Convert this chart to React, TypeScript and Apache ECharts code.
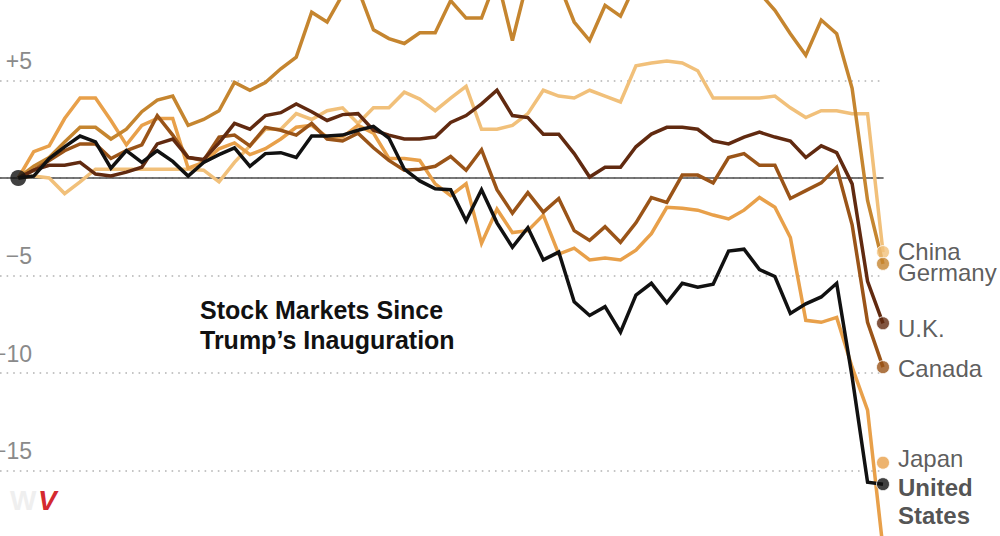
import React, { useEffect, useRef } from "react";
import * as echarts from "echarts";

// Trading days (x categories), Jan 17 = day before the inauguration
const dates = [
  "Jan 17", "Jan 20", "Jan 21", "Jan 22", "Jan 23", "Jan 24", "Jan 27", "Jan 28", "Jan 29", "Jan 30", "Jan 31",
  "Feb 3", "Feb 4", "Feb 5", "Feb 6", "Feb 7", "Feb 10", "Feb 11", "Feb 12", "Feb 13", "Feb 14",
  "Feb 17", "Feb 18", "Feb 19", "Feb 20", "Feb 21", "Feb 24", "Feb 25", "Feb 26", "Feb 27", "Feb 28",
  "Mar 3", "Mar 4", "Mar 5", "Mar 6", "Mar 7", "Mar 10", "Mar 11", "Mar 12", "Mar 13", "Mar 14",
  "Mar 17", "Mar 18", "Mar 19", "Mar 20", "Mar 21", "Mar 24", "Mar 25", "Mar 26", "Mar 27", "Mar 28",
  "Mar 31", "Apr 1", "Apr 2", "Apr 3", "Apr 4", "Apr 7",
];

// Percent change since inauguration
const chinaValues = [
  0, 0.1, 0.0, -0.8, -0.2, 0.45, 0.45, 0.45, 0.45, 0.45, 0.45,
  0.45, 0.4, -0.2, 0.8, 1.65, 2.5, 2.5, 3.3, 3.0, 3.45,
  3.6, 2.8, 3.6, 3.6, 4.4, 4.05, 3.45, 4.1, 4.7, 2.5,
  2.5, 2.7, 3.3, 4.5, 4.2, 4.1, 4.5, 4.2, 3.9, 5.75,
  5.9, 6.0, 5.9, 5.5, 4.1, 4.1, 4.1, 4.1, 4.2, 3.6,
  3.1, 3.45, 3.45, 3.3, 3.3, -3.8,
];
const japanValues = [
  0, 1.35, 1.65, 3.05, 4.1, 4.1, 2.95, 1.7, 2.7, 3.05, 3.05,
  0.5, 0.8, 1.5, 1.8, 1.2, 1.5, 2.0, 2.6, 2.7, 2.1,
  2.1, 2.7, 2.3, 1.0, 1.0, 0.9, -0.3, -0.9, -0.3, -3.35,
  -1.6, -2.8, -2.7, -1.9, -3.9, -3.6, -4.2, -4.1, -4.2, -3.7,
  -2.85, -1.5, -1.55, -1.65, -1.9, -2.1, -1.65, -1.0, -1.5, -3.05,
  -7.3, -7.4, -7.15, -9.7, -11.9, -19.0,
];
const germanyValues = [
  0, 0.6, 1.05, 1.85, 2.6, 2.6, 2.0, 2.5, 3.4, 4.0, 4.2,
  2.7, 3.0, 3.45, 4.9, 4.5, 4.9, 5.6, 6.2, 8.5, 8.0,
  9.4, 9.7, 7.6, 7.15, 6.9, 7.45, 7.45, 9.1, 8.2, 8.2,
  10.3, 7.05, 10.2, 11.5, 10.0, 8.0, 7.05, 8.85, 8.3, 10.0,
  10.8, 11.8, 11.4, 10.2, 9.6, 9.4, 10.5, 9.5, 8.6, 7.4,
  6.3, 8.1, 7.4, 4.6, -1.15, -4.4,
];
const canadaValues = [
  0, 0.4, 0.9, 1.4, 1.75, 1.75, 1.0, 1.4, 1.7, 3.2, 2.2,
  1.05, 0.9, 2.1, 2.2, 1.65, 2.6, 2.45, 2.2, 2.8, 2.0,
  1.9, 2.3, 1.55, 0.9, 0.4, 0.45, 0.6, 1.1, 0.4, 1.45,
  -0.6, -1.8, -0.75, -1.75, -1.05, -2.7, -3.2, -2.5, -3.3, -2.3,
  -1.0, -1.25, 0.15, 0.15, -0.25, 1.05, 1.25, 0.65, 0.65, -1.05,
  -0.65, -0.25, 0.55, -2.4, -7.4, -9.7,
];
const ukValues = [
  0, 0.4, 0.65, 0.65, 0.8, 0.2, 0.1, 0.3, 0.55, 1.75, 2.0,
  1.05, 0.95, 1.8, 2.8, 2.5, 3.2, 3.35, 3.8, 3.4, 2.95,
  3.25, 3.3, 2.45, 2.2, 2.0, 2.0, 2.1, 2.85, 3.2, 3.8,
  4.5, 3.2, 3.1, 2.25, 2.25, 1.25, 0.05, 0.55, 0.55, 1.6,
  2.25, 2.6, 2.6, 2.5, 1.9, 1.75, 2.1, 2.35, 2.1, 1.9,
  1.05, 1.65, 1.3, -0.3, -5.3, -7.45,
];
const usValues = [
  0, 0.1, 1.0, 1.6, 2.15, 1.85, 0.5, 1.4, 0.8, 1.4, 0.85,
  0.1, 0.8, 1.2, 1.55, 0.6, 1.25, 1.3, 1.05, 2.15, 2.15,
  2.2, 2.45, 2.65, 2.05, 0.45, -0.15, -0.55, -0.6, -2.2, -0.6,
  -2.3, -3.55, -2.55, -4.2, -3.8, -6.35, -7.05, -6.6, -7.9, -6.0,
  -5.4, -6.4, -5.4, -5.6, -5.45, -3.75, -3.65, -4.7, -5.05, -6.95,
  -6.45, -6.1, -5.4, -10.2, -15.6, -15.7,
];

// End labels (positions of the labelled dots)
const labelNames = ["China", "Germany", "U.K.", "Canada", "Japan", "United\nStates"];
const labelValues = [-3.8, -4.4, -7.45, -9.7, -14.6, -15.7];

const yTicks = [-20, -15, -10, -5, 0, 5, 10];

const COLORS = {
  china: "#f1c07a",
  japan: "#e8a04a",
  germany: "#c5852f",
  canada: "#9a5418",
  uk: "#612a10",
  us: "#111111",
};

const FONT = "'Liberation Sans', Arial, sans-serif";
// The chart canvas is taller than the visible window: it starts 17.5px above it
const SHIFT = 17.5;

export default function App() {
  const ref = useRef<HTMLDivElement>(null);

  useEffect(() => {
    const el = ref.current;
    if (!el) return;
    const chart = echarts.init(el, null, { renderer: "svg" });

    const lines = [
      { name: "China", values: chinaValues, color: COLORS.china },
      { name: "Japan", values: japanValues, color: COLORS.japan },
      { name: "Germany", values: germanyValues, color: COLORS.germany },
      { name: "Canada", values: canadaValues, color: COLORS.canada },
      { name: "U.K.", values: ukValues, color: COLORS.uk },
      { name: "United States", values: usValues, color: COLORS.us },
    ];

    const labelColors = [COLORS.china, COLORS.germany, COLORS.uk, COLORS.canada, COLORS.japan, COLORS.us];
    const labelOffsets = [[0, -1], [0, 9], [0, 5], [0, 1], [0, -4], [0, 17]];

    const lineSeries = lines.map((l, k) => ({
      type: "line",
      name: l.name,
      data: l.values.map((v, i) => [i, v]),
      showSymbol: false,
      symbol: "none",
      silent: true,
      z: 2 + k * 0.1,
      lineStyle: { color: l.color, width: 3.5, join: "miter" },
    }));

    const option = {
      animation: false,
      backgroundColor: "#ffffff",
      title: {
        text: "Stock Markets Since\nTrump\u2019s Inauguration",
        left: 200,
        top: 294 + SHIFT,
        padding: 0,
        textStyle: {
          fontFamily: FONT,
          fontWeight: "bold",
          fontSize: 25,
          lineHeight: 30,
          color: "#111111",
        },
      },
      grid: {
        left: 0,
        right: 117,
        top: 0,
        bottom: 0,
        containLabel: false,
        outerBoundsMode: "none",
      },
      xAxis: {
        type: "value",
        min: -1.185,
        max: dates.length - 1,
        axisLine: { show: true, onZero: true, lineStyle: { color: "#4d4d4d", width: 1.6 } },
        axisTick: { show: false },
        axisLabel: { show: false },
        splitLine: { show: false },
      },
      yAxis: {
        type: "value",
        min: yTicks[0],
        max: yTicks[yTicks.length - 1],
        interval: 5,
        position: "left",
        axisLine: { show: false },
        axisTick: { show: false },
        splitLine: {
          show: true,
          lineStyle: { color: "#b3b3b3", width: 1.6, type: [1.6, 5] },
        },
        axisLabel: {
          inside: true,
          align: "right",
          margin: 32,
          verticalAlign: "bottom",
          padding: [0, 0, 8, 0],
          fontSize: 23,
          fontFamily: FONT,
          color: "#8a8a8a",
          formatter: (v: number) => (v > 0 ? "+" + v : v < 0 ? "\u2212" + -v : ""),
        },
      },
      graphic: [
        {
          type: "text",
          left: 10,
          top: 486 + SHIFT,
          style: { text: "W", fill: "#efefef", font: `900 28px ${FONT}` },
        },
        {
          type: "text",
          left: 38,
          top: 486 + SHIFT,
          style: { text: "V", fill: "#d42a30", font: `italic 900 28px ${FONT}` },
        },
      ],
      series: [
        ...lineSeries,
        {
          type: "scatter",
          name: "start",
          silent: true,
          z: 5,
          clip: false,
          symbolSize: 16,
          itemStyle: { color: "#111111" },
          data: [[0, 0]],
        },
        {
          type: "scatter",
          name: "labels",
          silent: true,
          z: 5,
          clip: false,
          symbolSize: 13,
          data: labelNames.map((n, k) => ({
            name: n,
            value: [dates.length - 1, labelValues[k]],
            itemStyle: { color: labelColors[k], borderColor: "#ffffff", borderWidth: 1 },
            label: {
              offset: labelOffsets[k],
              fontWeight: k === labelNames.length - 1 ? "bold" : "normal",
              color: k === labelNames.length - 1 ? "#262626" : "#333333",
              lineHeight: k === labelNames.length - 1 ? 28 : 26,
            },
          })),
          label: {
            show: true,
            position: "right",
            distance: 8,
            formatter: "{b}",
            fontSize: 24,
            fontFamily: FONT,
            color: "#333333",
          },
        },
      ],
    };

    chart.setOption(option as any);
    return () => chart.dispose();
  }, []);

  return (
    <div
      ref={ref}
      style={{
        position: "fixed",
        left: 0,
        top: -SHIFT,
        width: 1000,
        height: 585,
        background: "#fff",
      }}
    />
  );
}
